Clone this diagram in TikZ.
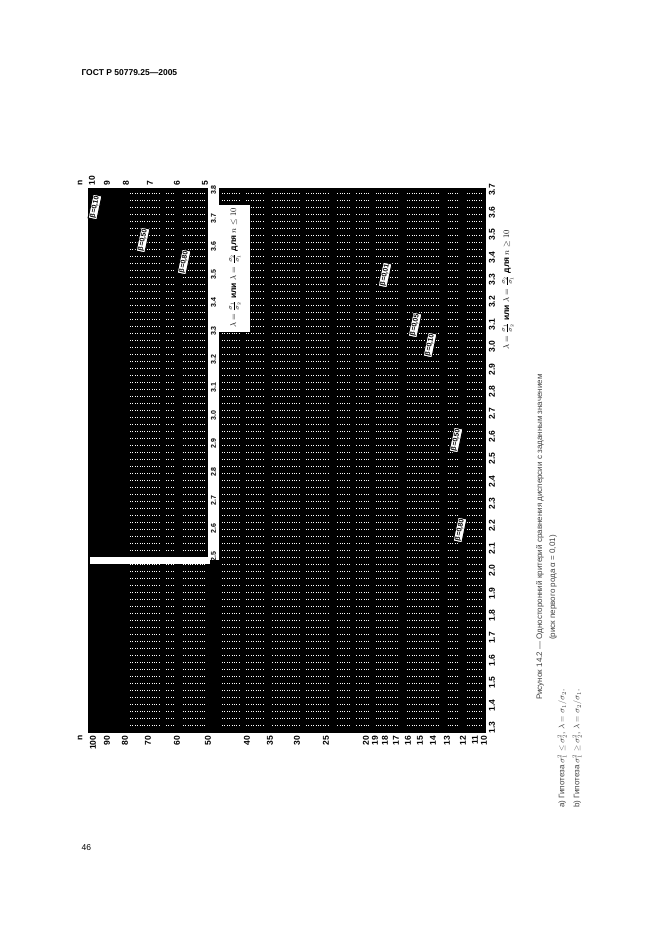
\documentclass[tikz,border=0pt]{standalone}
\usepackage{fontspec}
\setmainfont{Liberation Sans}
\usepackage{unicode-math}
\setmathfont{Latin Modern Math}
\begin{document}
\begin{tikzpicture}[x=1pt,y=-1pt,
  lab/.style={font=\fontsize{8.5}{9}\selectfont\bfseries,rotate=90,inner sep=0.5pt},
  captxt/.style={font=\fontsize{8}{9}\selectfont,rotate=90,anchor=west,inner sep=0pt,text=black!75},
  beta/.style={font=\fontsize{7}{8}\selectfont\bfseries,rotate=78,fill=white,draw=black,line width=1pt,inner sep=1.2pt},
  dots/.style={white,line width=0.6pt,dash pattern=on 0.8pt off 1.6pt}]
\useasboundingbox (0,0) rectangle (661,935);
\node[anchor=west,font=\fontsize{8.5}{10}\selectfont\bfseries] (hdr) at (78,73) {ГОСТ Р 50779.25—2005};
\node[anchor=west,font=\fontsize{8.5}{10}\selectfont] (pg) at (78,848) {46};
% chart body
\fill[black] (88,188) rectangle (486,733);
\foreach \y in {193,200,...,730} {
  \draw[dots] (130,\y) -- (205,\y);
  \draw[dots] (222,\y) -- (482,\y);
}
\foreach \x in {160,175,240,265,300,330,350,370,400,440,460} {
  \fill[black] (\x,188) rectangle (\x+6,733);
}
% white band with inner axis
\fill[white] (208,188) rectangle (219,560);
\fill[white] (90,557) rectangle (210,564);
\fill[white] (219,205) rectangle (250,332);
\node[lab,anchor=center] (formA) at (235,268) {$\lambda=\frac{\sigma_1}{\sigma_2}$ или $\lambda=\frac{\sigma_2}{\sigma_1}$ для $n\le 10$};
\foreach \v [count=\i from 0] in {3.8,3.7,3.6,3.5,3.4,3.3,3.2,3.1,3.0,2.9,2.8,2.7,2.6,2.5} {
  \pgfmathsetmacro{\yy}{190+\i*28.2}
  \node[lab,anchor=center,font=\fontsize{7}{7}\selectfont\bfseries] at (213.5,\yy) {\v};
}
% bottom lambda axis
\foreach \v [count=\i from 0] in {3.7,3.6,3.5,3.4,3.3,3.2,3.1,3.0,2.9,2.8,2.7,2.6,2.5,2.4,2.3,2.2,2.1,2.0,1.9,1.8,1.7,1.6,1.5,1.4,1.3} {
  \pgfmathsetmacro{\yy}{190+\i*22.4}
  \node[lab,anchor=center] at (492,\yy) {\v};
}
\node[lab,anchor=center] (formB) at (508,290) {$\lambda=\frac{\sigma_1}{\sigma_2}$ или $\lambda=\frac{\sigma_2}{\sigma_1}$ для $n\ge 10$};
% n axis bottom
\node[lab,anchor=east] at (80,735) {n};
\foreach \v/\x in {100/93,90/107,80/125,70/148,60/177,50/208,40/247,35/270,30/297,25/326,20/366,19/375,18/385,17/396,16/408,15/420,14/433,13/447,12/463,11/475,10/484} {
  \node[lab,anchor=east] at (\x,735) {\v};
}
% n axis top
\node[lab,anchor=west] at (80,186) {n};
\foreach \v/\x in {10/92,9/107,8/126,7/150,6/177,5/205} {
  \node[lab,anchor=west] at (\x,186) {\v};
}
% beta labels
\foreach \t/\x/\y in {0{,}10/95/207,0{,}50/143/240,0{,}80/184/262,0{,}01/385/275,0{,}05/415/325,0{,}10/430/345,0{,}50/456/440,0{,}80/460/530} {
  \node[beta] at (\x,\y) {β=\t};
}
% captions
\node[captxt] (c1) at (540,700) {Рисунок 14.2 — Односторонний критерий сравнения дисперсии с заданным значением};
\node[captxt] (c2) at (553,640) {(риск первого рода α = 0,01)};
\node[captxt] (f1) at (562,808) {a) Гипотеза $\sigma_1^2\le\sigma_2^2$, $\lambda=\sigma_1/\sigma_2$.};
\node[captxt] (f2) at (577,808) {b) Гипотеза $\sigma_1^2\ge\sigma_2^2$, $\lambda=\sigma_2/\sigma_1$.};
\end{tikzpicture}
\end{document}
